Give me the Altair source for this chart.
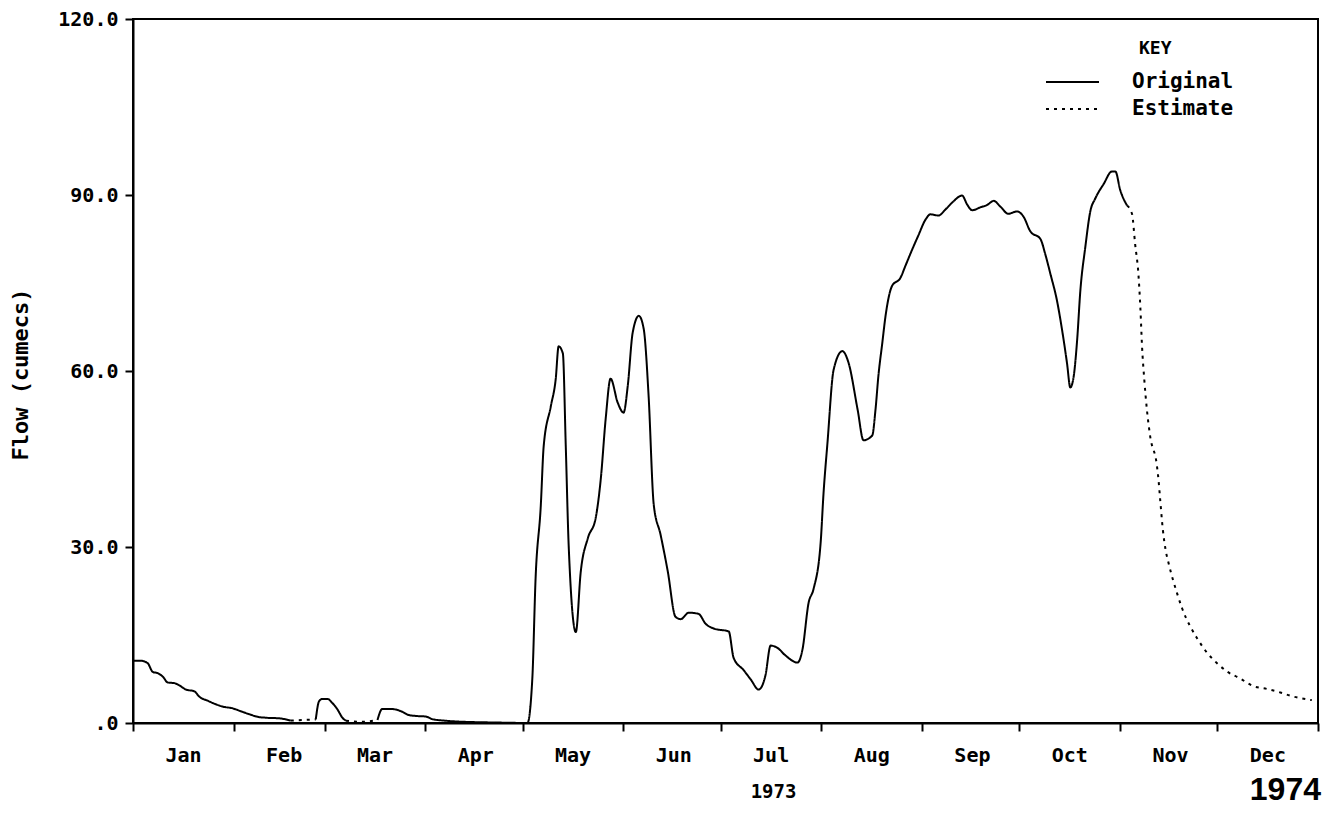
import json
import altair as alt
import pandas as pd

# ---- axis text -------------------------------------------------------------
month_names = ["Jan", "Feb", "Mar", "Apr", "May", "Jun", "Jul", "Aug",
               "Sep", "Oct", "Nov", "Dec", ""]
month_start_days = [0, 31, 59, 90, 120, 151, 181, 212, 243, 273, 304, 334, 365]
y_ticks = [0, 30, 60, 90, 120]

# ---- observed flow (day of year 1973, cumecs); None = gap ------------------
original_day = [
    0, 2.5, 4.5, 6.1, 7.6, 9.2, 10.7, 12.7, 14.3, 16.3, 18.9, 20.4, 23.0, 25.5,
    27.6, 30.7, 33.2, 35.8, 38.4, 40.9, 45.0, 48.6,
    None,
    56.3, 57.3, 58.3, 59.9, 61.4, 63.0, 64.5, 65.6,
    None,
    75.3, 76.8, 78.9, 80.9, 83.0, 85.0, 87.1, 90.2, 92.2, 96, 100, 105, 110,
    115, 121.5, 123.0, 124.0, 125.6, 126.5, 128.7, 130.2, 131.1, 132.4, 133.3,
    134.2, 136.4, 137.9, 140.1, 142.5, 144.1, 145.6, 147.1, 149.3, 151.1,
    152.4, 153.9, 155.8, 157.3, 158.8, 160.4, 162.5, 164.7, 167.1, 168.7,
    171.2, 174.2, 176.4, 178.9, 183.5, 185.0, 188.1, 190.3, 192.7, 194.8,
    196.4, 198.5, 201.0, 204.7, 206.2, 208.1, 209.6, 211.8, 212.7, 213.9,
    215.8, 218.5, 220.4, 223.2, 225.0, 227.7, 228.7, 229.6, 230.8, 231.8,
    233.8, 236.4, 237.9, 240.0, 241.9, 244.1, 245.6, 248.1, 250.2, 252.3,
    255.4, 256.9, 258.5, 261.0, 263.1, 265.1, 267.2, 269.6, 272.3, 274.3,
    276.4, 279.5, 281.0, 282.6, 284.6, 286.2, 287.7, 288.7, 289.7, 290.8,
    291.8, 293.3, 294.9, 296.4, 299.0, 301.5, 302.6, 304.1, 306.2,
]
original_flow = [
    10.6, 10.6, 10.2, 8.7, 8.5, 7.9, 6.9, 6.8, 6.4, 5.7, 5.4, 4.5, 3.8, 3.2,
    2.8, 2.5, 2.0, 1.5, 1.05, 0.9, 0.8, 0.4,
    None,
    0.6, 3.7, 4.1, 4.1, 3.4, 2.3, 0.9, 0.4,
    None,
    0.5, 2.4, 2.4, 2.3, 1.9, 1.35, 1.2, 1.1, 0.65, 0.4, 0.25, 0.15, 0.1,
    0.05, 0.0, 7.6, 24.6, 37.0, 47.2, 54.0, 58.6, 64.2, 63.0, 47.2,
    30.2, 15.5, 25.7, 31.5, 34.9, 41.7, 51.9, 58.7, 54.6, 52.9,
    57.5, 66.5, 69.4, 67.2, 55.9, 37.2, 32.1, 25.9, 18.1, 17.7,
    18.8, 18.6, 16.9, 16.1, 15.6, 11.1, 9.0, 7.4, 5.7, 8.1,
    13.2, 12.8, 11.5, 10.3, 12.5, 20.5, 22.8, 30.7, 39.2, 47.7,
    60.2, 63.4, 61.4, 53.4, 48.2, 49.0, 53.4, 59.2, 64.8, 69.4,
    74.5, 75.9, 77.9, 80.7, 83.1, 85.8, 86.7, 86.5, 87.5, 88.7,
    89.9, 88.4, 87.4, 87.9, 88.3, 89.0, 88.0, 86.8, 87.2, 86.3,
    83.8, 82.5, 79.9, 76.5, 72.0, 66.9, 61.3, 57.2, 58.9, 65.2,
    73.7, 81.0, 87.3, 89.4, 91.9, 94.0, 94.0, 90.8, 88.2,
]

# ---- estimated flow (infilled gaps and recession) --------------------------
estimate_day = [
    48.6, 52.0, 56.3,
    None,
    65.6, 70.0, 75.3,
    None,
    306.2, 307.7, 308.7, 309.7, 310.3, 310.8, 311.5, 312.3, 313.3, 315.4,
    315.9, 316.4, 317.2, 318.0, 319.0, 321.6, 323.1, 325.7, 327.7, 330.8,
    333.9, 336.9, 341.0, 345.0, 349.3, 353.4, 357.4, 363.1,
]
estimate_flow = [
    0.4, 0.5, 0.6,
    None,
    0.4, 0.2, 0.5,
    None,
    88.2, 86.8, 81.5, 76.4, 70.6, 64.2, 58.5, 53.4, 48.9, 43.8,
    41.3, 38.0, 33.0, 29.7, 27.2, 22.1, 19.6, 16.4, 14.5, 12.0,
    10.2, 8.8, 7.6, 6.3, 5.8, 5.2, 4.5, 3.9,
]

rows = []


def add(series, days, flows):
    seg = 0
    for d, f in zip(days, flows):
        if d is None or f is None:
            seg += 1
            continue
        rows.append({"day": d, "flow": f, "series": series,
                     "seg": f"{series}-{seg}"})


add("Original", original_day, original_flow)
add("Estimate", estimate_day, estimate_flow)
df = pd.DataFrame(rows)

MONO = "DejaVu Sans Mono"

x_label_expr = (f"{json.dumps(month_names)}"
                f"[indexof({json.dumps(month_start_days)}, datum.value)]")
y_label_expr = "datum.value == 0 ? '.0' : format(datum.value, '.1f')"

chart = (
    alt.Chart(df)
    .mark_line(color="black", strokeWidth=2, interpolate="monotone")
    .encode(
        x=alt.X(
            "day:Q",
            scale=alt.Scale(domain=[0, 365], nice=False, zero=False),
            axis=alt.Axis(
                values=month_start_days,
                labelExpr=x_label_expr,
                labelOffset=50,
                labelAlign="center",
                labelFlush=False,
                labelOverlap=False,
                labelPadding=14,
                title="1973",
                titleX=640,
                titleY=68,
                titleAlign="center",
                titleBaseline="middle",
                titleFont=MONO,
                titleFontSize=19,
                titleFontWeight="bold",
            ),
        ),
        y=alt.Y(
            "flow:Q",
            scale=alt.Scale(domain=[0, 120], nice=False),
            axis=alt.Axis(
                values=y_ticks,
                labelExpr=y_label_expr,
                labelPadding=7,
                title="Flow (cumecs)",
                titleX=-113,
                titleY=355,
                titleAlign="center",
                titleBaseline="middle",
                titleFont=MONO,
                titleFontSize=22,
                titleFontWeight="bold",
            ),
        ),
        strokeDash=alt.StrokeDash(
            "series:N",
            scale=alt.Scale(domain=["Original", "Estimate"],
                            range=[[1, 0], [3, 5]]),
            legend=alt.Legend(
                title="KEY",
                orient="none",
                legendX=912,
                legendY=21,
                symbolType="stroke",
                symbolSize=2809,
                symbolStrokeWidth=2,
                symbolStrokeColor="black",
                labelOffset=32,
                labelFont=MONO,
                labelFontSize=21,
                labelFontWeight="bold",
                labelColor="black",
                titleFont=MONO,
                titleFontSize=18,
                titleFontWeight="bold",
                titleColor="black",
                titleAnchor="middle",
                titleAlign="left",
                titlePadding=14,
                clipHeight=20,
                rowPadding=6,
            ),
        ),
        detail="seg:N",
    )
    .properties(
        width=1185,
        height=704,
        padding={"left": 125, "top": 11, "right": 4, "bottom": 86},
        autosize=alt.AutoSizeParams(type="none"),
        background="white",
        title=alt.TitleParams(
            "1974",
            orient="bottom",
            anchor="end",
            frame="group",
            align="right",
            font="Liberation Sans",
            fontSize=32,
            fontWeight="bold",
            color="black",
            dx=3,
            dy=-30,
        ),
    )
    .configure_view(stroke="black", strokeWidth=2)
    .configure_axis(
        labelFont=MONO,
        labelFontSize=20,
        labelFontWeight="bold",
        labelColor="black",
        titleColor="black",
        domainColor="black",
        domainWidth=2,
        tickColor="black",
        tickWidth=2,
        tickSize=8,
        grid=False,
    )
)

chart.save("out.html", embed_options={"renderer": "svg", "actions": False})
